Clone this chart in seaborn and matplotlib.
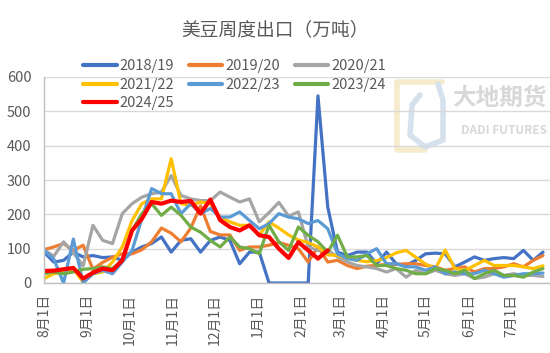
import matplotlib
matplotlib.use('Agg')
import numpy as np
import pandas as pd
import seaborn as sns
from matplotlib import pyplot as plt
from matplotlib.lines import Line2D

# weekly US soybean exports, 10k tonnes (week index from Aug 1)
s1819 = [90, 61, 66, 90, 76, 80, 74, 76, 66, 90, 105, 115, 134, 90, 124, 129, 90, 124, 134, 124,
         56, 90, 90, 0, 0, 0, 0, 0, 545, 221, 90, 80, 90, 90, 56, 90, 56, 51, 66, 85,
         87, 85, 47, 61, 76, 66, 71, 74, 71, 95, 66, 90]
s1920 = [97, 105, 115, 95, 110, 40, 60, 75, 85, 85, 97, 120, 160, 145, 120, 160, 225, 150, 140, 140,
         95, 105, 105, 110, 118, 110, 100, 61, 105, 61, 66, 51, 42, 49, 51, 54, 54, 56, 56, 51,
         47, 37, 42, 47, 32, 42, 42, 47, 56, 47, 66, 80]
s2021 = [97, 78, 120, 88, 50, 168, 124, 115, 202, 231, 250, 260, 265, 313, 255, 245, 240, 240, 265, 250,
         236, 245, 178, 205, 235, 195, 207, 105, 95, 95, 76, 61, 51, 47, 42, 32, 42, 17, 37, 27,
         37, 27, 22, 27, 13, 17, 27, 22, 27, 22, 22, 19]
s2122 = [13, 27, 32, 42, 2, 27, 32, 61, 105, 182, 231, 245, 245, 362, 231, 226, 236, 231, 192, 178,
         168, 168, 140, 178, 160, 140, 125, 118, 105, 82, 80, 72, 66, 62, 65, 74, 88, 95, 75, 55,
         42, 96, 42, 37, 51, 66, 51, 51, 51, 47, 42, 50]
s2223 = [95, 70, 0, 128, 0, 27, 37, 27, 61, 95, 187, 275, 260, 260, 202, 231, 202, 217, 192, 192,
         207, 182, 158, 173, 202, 192, 187, 173, 182, 158, 85, 71, 66, 85, 100, 56, 56, 47, 47, 37,
         47, 27, 32, 27, 27, 37, 27, 17, 22, 27, 27, 29]
s2324 = [27, 32, 27, 32, 40, 42, 47, 42, 66, 153, 202, 231, 197, 221, 197, 163, 148, 124, 105, 134,
         105, 100, 85, 168, 120, 95, 163, 139, 120, 90, 139, 76, 76, 80, 51, 51, 42, 37, 27, 27,
         42, 37, 27, 37, 13, 27, 37, 22, 22, 17, 32, 42]
s2425 = [35, 36, 40, 44, 13, 30, 42, 37, 66, 153, 187, 236, 231, 240, 236, 239, 202, 243, 183, 163,
         153, 168, 139, 134, 100, 73, 119, 95, 71, 95]

seasons = ['2018/19', '2019/20', '2020/21', '2021/22', '2022/23', '2023/24', '2024/25']
series = [s1819, s1920, s2021, s2122, s2223, s2324, s2425]
colors = ['#4472C4', '#ED7D31', '#A5A5A5', '#FFC000', '#5B9BD5', '#70AD47', '#FF0000']

month_days = [0, 31, 61, 92, 122, 153, 184, 212, 243, 273, 304, 334]
month_labels = ['8月1日', '9月1日', '10月1日', '11月1日', '12月1日', '1月1日',
                '2月1日', '3月1日', '4月1日', '5月1日', '6月1日', '7月1日']

rows = []
for name, vals in zip(seasons, series):
    for i, v in enumerate(vals):
        rows.append({'season': name, 'day': 7 * i, 'value': v})
df = pd.DataFrame(rows)

sns.set_style('white')
plt.rcParams['font.family'] = ['Noto Sans CJK SC', 'DejaVu Sans']
grey = '#595959'

fig = plt.figure(figsize=(5.5, 3.53), dpi=100)

# watermark (behind the chart)
fig.text(547 / 550, 1 - 98 / 353, '大地期货', ha='right', va='center', fontsize=17,
         fontweight='bold', color='#D8D8D8', zorder=0)
fig.text(547 / 550, 1 - 130 / 353, 'DADI FUTURES', ha='right', va='center', fontsize=8.5,
         fontweight='bold', color='#D8D8D8', zorder=0)
fig.add_artist(Line2D([442 / 550, 397 / 550, 397 / 550, 425 / 550],
                      [1 - 82 / 353, 1 - 82 / 353, 1 - 150 / 353, 1 - 150 / 353],
                      color='#F6ECCD', linewidth=4, zorder=0))
fig.add_artist(Line2D([438 / 550, 443 / 550, 443 / 550, 425 / 550, 410 / 550, 412 / 550, 420 / 550],
                      [1 - 84 / 353, 1 - 100 / 353, 1 - 140 / 353, 1 - 147 / 353, 1 - 135 / 353,
                       1 - 105 / 353, 1 - 95 / 353],
                      color='#D6E1EE', linewidth=4, zorder=0))

ax = fig.add_axes([44 / 550, 1 - 283 / 353, 1 - 44 / 550, 206 / 353])
ax.patch.set_alpha(0)

for name, col in zip(seasons, colors):
    lw = 3.0 if name == '2024/25' else 2.3
    sns.lineplot(data=df[df.season == name], x='day', y='value', color=col,
                 linewidth=lw, ax=ax, legend=False)

ax.set_xlim(0, 362)
ax.set_ylim(0, 600)
ax.set_yticks(range(0, 601, 100))
ax.set_xticks(month_days)
ax.set_xticklabels(month_labels, rotation=90, va='top', ha='center')
ax.set_xlabel('')
ax.set_ylabel('')
ax.grid(axis='y', color='#D9D9D9', linewidth=1)
ax.set_axisbelow(True)
for side in ['top', 'right']:
    ax.spines[side].set_visible(False)
for side in ['left', 'bottom']:
    ax.spines[side].set_color('#BFBFBF')
    ax.spines[side].set_linewidth(1)
ax.tick_params(axis='x', direction='in', length=4, color='#BFBFBF', labelsize=10, labelcolor=grey, pad=8)
ax.tick_params(axis='y', direction='out', length=3, color='#BFBFBF', labelsize=10.5, labelcolor=grey, pad=6)

fig.text(0.5, 1 - 30 / 353, '美豆周度出口（万吨）', ha='center', va='center', fontsize=13.5, color=grey)

# legend filled row by row
order = [0, 3, 6, 1, 4, 2, 5]
handles = [Line2D([0], [0], color=colors[k], linewidth=3) for k in order]
labels = [seasons[k] for k in order]
fig.legend(handles, labels, ncol=3, loc='upper left', bbox_to_anchor=(76 / 550, 1 - 52 / 353),
           frameon=False, fontsize=10.5, labelcolor=grey, handlelength=2.3, handletextpad=0.2,
           columnspacing=1.0, labelspacing=0.3, borderpad=0)

fig.savefig('out.png', dpi=100)
